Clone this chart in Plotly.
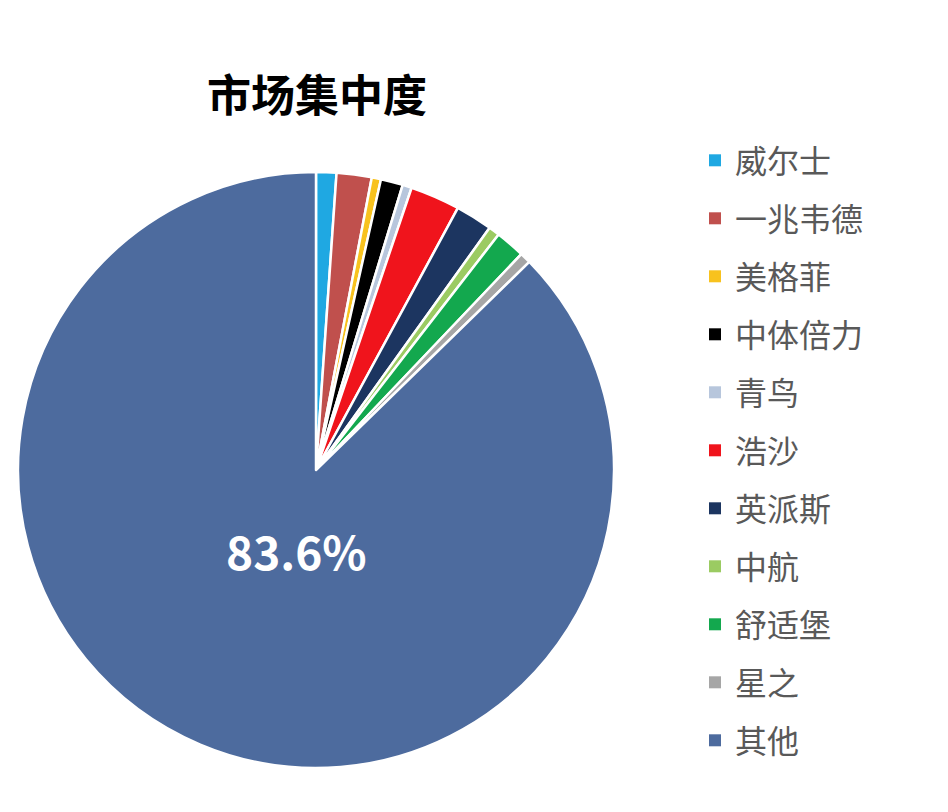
import plotly.graph_objects as go

brands = ["威尔士", "一兆韦德", "美格菲", "中体倍力", "青鸟", "浩沙", "英派斯", "中航", "舒适堡", "星之", "其他"]
shares = [1.1, 1.9, 0.5, 1.2, 0.5, 2.7, 2.0, 0.6, 1.6, 0.6, 87.3]
# data label printed on the chart (only the "其他" slice carries one)
shown_labels = ["", "", "", "", "", "", "", "", "", "", "83.6%"]
colors = ["#1FA8E2", "#C0504D", "#F8C21E", "#000000", "#B7C6DC", "#F0141C",
          "#1C3560", "#9BCB62", "#13A84E", "#A6A6A6", "#4D6B9E"]

cjk = "Noto Sans CJK SC"
W, H = 948, 812
off = 8  # page body margin


def px(x):
    return (x - off) / W


def py(y):
    return 1 - (y - off) / H


fig = go.Figure()
fig.add_trace(go.Pie(
    labels=brands, values=shares,
    sort=False, direction="clockwise", rotation=0,
    marker=dict(colors=colors, line=dict(color="white", width=2.5)),
    textinfo="none",
    domain=dict(x=[px(18), px(614)], y=[py(768), py(172)]),
    showlegend=False, hoverinfo="label+value",
))

# legend entries as separate groups so the row spacing can be widened
for b, c in zip(brands, colors):
    fig.add_trace(go.Scatter(x=[None], y=[None], mode="markers", name=b,
                             legendgroup=b,
                             marker=dict(symbol="square", size=12, color=c)))

fig.add_annotation(text="<b>%s</b>" % shown_labels[-1], xref="paper", yref="paper",
                   x=px(296), y=py(550), xanchor="center", yanchor="middle",
                   showarrow=False,
                   font=dict(family=cjk, size=46, color="white"))

fig.update_layout(
    width=W, height=H,
    margin=dict(l=0, r=0, t=0, b=0),
    paper_bgcolor="white", plot_bgcolor="white",
    title=dict(text="<b>市场集中度</b>", x=px(317), xanchor="center",
               y=py(97), yanchor="middle",
               font=dict(family=cjk, size=44, color="#000000")),
    legend=dict(x=px(695), xanchor="left", y=py(133), yanchor="top",
                font=dict(family=cjk, size=32, color="#595959"),
                tracegroupgap=13.4, itemsizing="constant"),
    xaxis=dict(visible=False), yaxis=dict(visible=False),
)

fig.write_html("out.html")
